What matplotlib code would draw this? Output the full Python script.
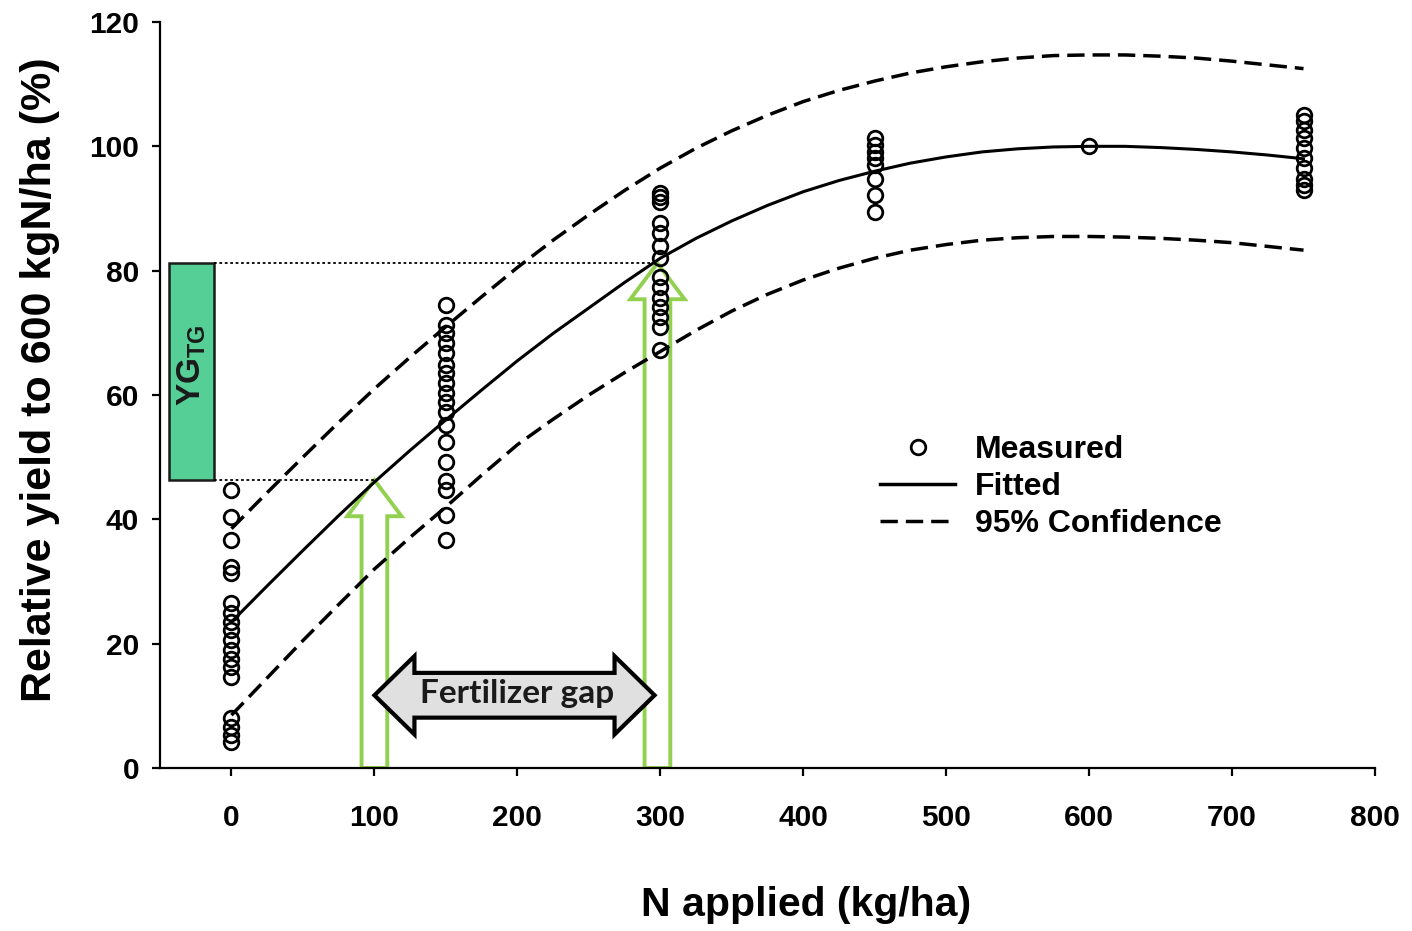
import matplotlib
matplotlib.use("Agg")
import matplotlib.pyplot as plt
from matplotlib.patches import FancyArrow, Polygon, Rectangle
from matplotlib.lines import Line2D

plt.rcParams['font.family'] = ['Liberation Sans', 'DejaVu Sans']
plt.rcParams['font.weight'] = 'bold'
plt.rcParams['mathtext.fontset'] = 'custom'
plt.rcParams['mathtext.rm'] = 'Liberation Sans:bold'
plt.rcParams['mathtext.bf'] = 'Liberation Sans:bold'

# ---------------- data ----------------
n_levels = [0, 150, 300, 450, 600, 750]
yield_n0 = [44.7, 40.4, 36.7, 32.4, 31.3, 26.5, 24.9, 23.5, 22.2, 20.6, 19.0,
            17.6, 16.3, 14.7, 8.0, 6.6, 5.3, 4.2]
yield_n150 = [74.5, 71.3, 69.9, 68.3, 66.7, 64.8, 63.5, 61.9, 60.3, 58.9, 57.3,
              55.2, 52.5, 49.3, 46.1, 44.7, 40.7, 36.7]
yield_n300 = [92.5, 91.8, 91.0, 87.6, 86.0, 83.9, 82.0, 79.0, 77.4, 75.6, 74.2,
              72.6, 71.0, 67.2]
yield_n450 = [101.3, 100.2, 99.1, 98.1, 97.0, 94.8, 92.2, 89.5]
yield_n600 = [100.0]
yield_n750 = [105.0, 104.0, 102.6, 101.3, 99.7, 98.1, 96.5, 94.8, 93.8, 93.0]
measured = [yield_n0, yield_n150, yield_n300, yield_n450, yield_n600, yield_n750]

curve_n = [0, 25, 50, 75, 100, 125, 150, 175, 200, 225, 250, 275, 300, 325, 350,
           375, 400, 425, 450, 475, 500, 525, 550, 575, 600, 625, 650, 675, 700,
           725, 750]
fitted = [23.5, 29.3, 35.0, 40.6, 46.0, 51.1, 56.0, 60.8, 65.5, 69.9, 74.0, 78.1,
          82.0, 85.2, 88.0, 90.5, 92.7, 94.5, 96.0, 97.3, 98.3, 99.1, 99.6, 99.9,
          100.0, 100.0, 99.8, 99.5, 99.1, 98.6, 98.0]
upper95 = [38.5, 44.3, 50.0, 55.6, 61.0, 66.1, 71.0, 75.8, 80.5, 84.9, 89.0, 92.9,
           96.5, 99.7, 102.5, 105.0, 107.2, 109.0, 110.5, 111.8, 112.8, 113.6,
           114.2, 114.6, 114.7, 114.7, 114.5, 114.2, 113.7, 113.1, 112.5]
lower95 = [8.5, 14.5, 20.5, 26.3, 32.0, 37.1, 42.0, 47.1, 52.0, 56.1, 60.0, 63.6,
           67.0, 70.4, 73.5, 76.2, 78.5, 80.4, 82.0, 83.3, 84.2, 84.9, 85.3, 85.5,
           85.5, 85.4, 85.2, 84.9, 84.5, 83.9, 83.3]

gap_n = [100, 298]          # N rates of the two green arrows
gap_yield = [46.3, 81.2]    # yields reached at those rates
x_ticks = [0, 100, 200, 300, 400, 500, 600, 700, 800]
y_ticks = [0, 20, 40, 60, 80, 100, 120]

# ---------------- figure ----------------
W, H = 1412, 931
fig = plt.figure(figsize=(W / 100, H / 100), dpi=100)
ax = fig.add_axes([160 / W, 1 - 768 / H, (1375 - 160) / W, (768 - 22) / H])
ax.set_xlim(-50, 800)
ax.set_ylim(0, 120)

green = '#92d050'
for n, y in zip(gap_n, gap_yield):
    ax.add_patch(FancyArrow(n, 0, 0, y, width=18, head_width=38, head_length=5.8,
                            length_includes_head=True, facecolor='white',
                            edgecolor=green, lw=2.8, zorder=2))

# YG_TG rectangle
ax.add_patch(Rectangle((-44, gap_yield[0]), 31.5, gap_yield[1] - gap_yield[0],
                       facecolor='#55cf95', edgecolor='#1a1a1a', lw=1.8,
                       zorder=3, clip_on=False))
ax.text(-28, (gap_yield[0] + gap_yield[1]) / 2 + 1, r'$\mathbf{YG}_{\mathbf{TG}}$',
        rotation=90, ha='center', va='center', fontsize=24, color='#1a1a1a',
        zorder=4)

# dotted guide lines
ax.plot([-12.5, gap_n[1]], [gap_yield[1]] * 2, color='black', lw=1.3,
        linestyle=(0, (1.5, 1.5)), zorder=3)
ax.plot([-12.5, gap_n[0]], [gap_yield[0]] * 2, color='black', lw=1.3,
        linestyle=(0, (1.5, 1.5)), zorder=3)

# fertilizer gap double arrow
x0, x1 = gap_n[0], gap_n[1] - 2
yc, bh, hh, hl = 11.7, 3.6, 6.3, 28
poly = [(x0, yc), (x0 + hl, yc + hh), (x0 + hl, yc + bh), (x1 - hl, yc + bh),
        (x1 - hl, yc + hh), (x1, yc), (x1 - hl, yc - hh), (x1 - hl, yc - bh),
        (x0 + hl, yc - bh), (x0 + hl, yc - hh)]
ax.add_patch(Polygon(poly, closed=True, facecolor='#e0e0e0', edgecolor='black',
                     lw=3.0, joinstyle='miter', zorder=5))
ax.text((x0 + x1) / 2 + 2, yc + 0.3, 'Fertilizer gap', ha='center', va='center',
        fontsize=24, family='Lato', weight='bold', color='#1a1a1a', zorder=6)

# curves
dash = (0, (5, 2.3))
ax.plot(curve_n, fitted, color='black', lw=2.2, zorder=6)
ax.plot(curve_n, upper95, color='black', lw=2.5, linestyle=dash, zorder=6)
ax.plot(curve_n, lower95, color='black', lw=2.5, linestyle=dash, zorder=6)

# measured points
for n, ys in zip(n_levels, measured):
    ax.plot([n] * len(ys), ys, linestyle='none', marker='o', markersize=10.5,
            markerfacecolor='none', markeredgecolor='black', markeredgewidth=2.0,
            zorder=7, clip_on=False)

# axes styling
for s in ['top', 'right']:
    ax.spines[s].set_visible(False)
for s in ['left', 'bottom']:
    ax.spines[s].set_linewidth(1.6)
ax.set_xticks(x_ticks)
ax.set_yticks(y_ticks)
ax.tick_params(axis='both', direction='out', length=6, width=1.6, labelsize=21.5)
ax.tick_params(axis='x', pad=20)
ax.tick_params(axis='y', pad=9)
for lab in ax.get_xticklabels() + ax.get_yticklabels():
    lab.set_fontweight('bold')

ax.set_xlabel('N applied (kg/ha)', fontsize=29.5, fontweight='bold')
ax.set_ylabel('Relative yield to 600 kgN/ha (%)', fontsize=31, fontweight='bold')
ax.xaxis.set_label_coords((806 - 160) / 1215, (768 - 905) / 746)
ax.yaxis.set_label_coords((40 - 160) / 1215, (768 - 380) / 746)
ax.xaxis.label.set_va('center')
ax.yaxis.label.set_va('center')

handles = [
    Line2D([], [], linestyle='none', marker='o', markersize=10.5,
           markerfacecolor='none', markeredgecolor='black', markeredgewidth=2.0),
    Line2D([], [], color='black', lw=2.5),
    Line2D([], [], color='black', lw=2.5, linestyle=dash),
]
ax.legend(handles, ['Measured', 'Fitted', '95% Confidence'], loc='upper left',
          bbox_to_anchor=(0.5926, 0.446), frameon=False,
          prop={'family': 'Liberation Sans', 'weight': 'bold', 'size': 23},
          handlelength=2.35, handletextpad=0.63, labelspacing=0.22,
          borderaxespad=0, borderpad=0)

fig.savefig('out.png', dpi=100, facecolor='white')
